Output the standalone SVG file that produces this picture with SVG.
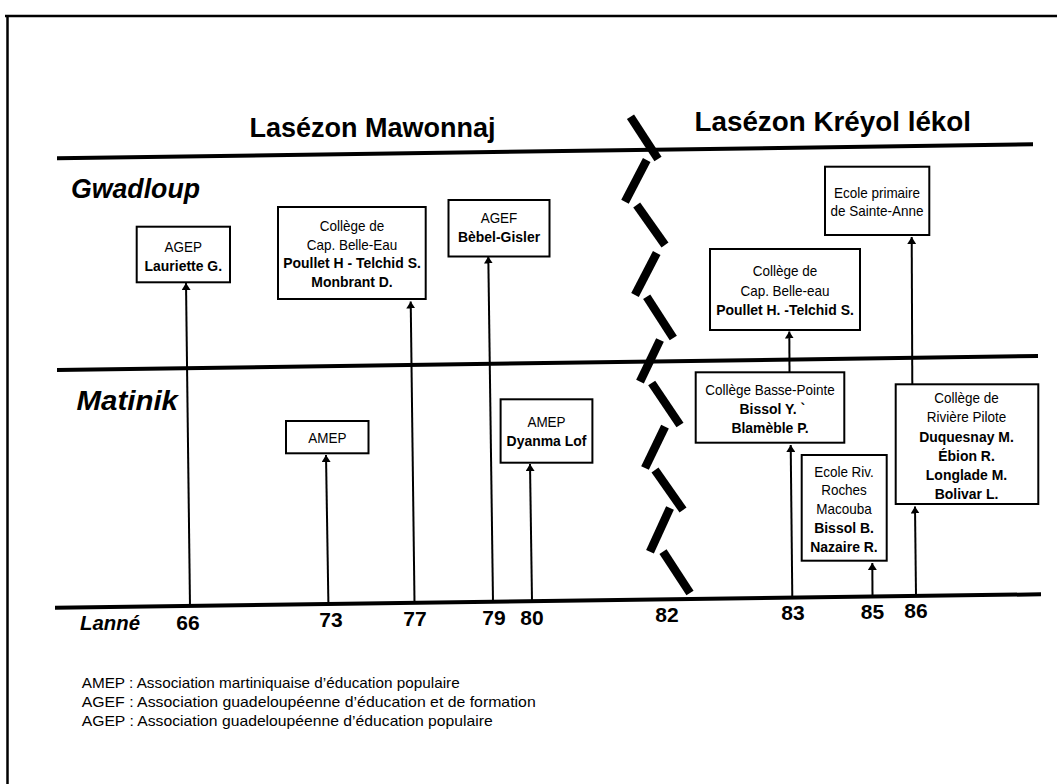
<svg xmlns="http://www.w3.org/2000/svg" width="1057" height="784" viewBox="0 0 1057 784">
<style>
.frame{stroke:#000;stroke-width:2.5;fill:none}
.axis{stroke:#000;stroke-width:4;fill:none}
.zz{stroke:#000;stroke-width:8.5;stroke-linecap:butt;fill:none}
.conn{stroke:#000;stroke-width:2;fill:none}
.box{fill:#fff;stroke:#000;stroke-width:2}
text{font-family:"Liberation Sans",Arial,sans-serif;fill:#000}
.t{font-size:15px;text-anchor:middle}
.b{font-size:15.5px;font-weight:bold;text-anchor:middle}
.title{font-size:27px;font-weight:bold}
.region{font-size:28px;font-weight:bold;font-style:italic}
.year{font-size:21px;font-weight:bold;text-anchor:middle}
.legend{font-size:15px}
</style>
<defs>
<marker id="arr" viewBox="0 0 7 9" refX="7" refY="4.5" markerWidth="7" markerHeight="9" markerUnits="userSpaceOnUse" orient="auto">
<path d="M0,0 L7,4.5 L0,9 z" fill="#000"/>
</marker>
</defs>
<rect width="1057" height="784" fill="#fff"/>
<g id="frame">
<line class="frame" x1="5" y1="16" x2="1057" y2="16"/>
<line class="frame" x1="7.5" y1="15" x2="7.5" y2="784"/>
</g>
<g id="axes">
<line class="axis" x1="57" y1="158.3" x2="1033" y2="144.3"/>
<line class="axis" x1="57" y1="370" x2="1038" y2="356"/>
<line class="axis" x1="55" y1="607.7" x2="1041" y2="594.3"/>
</g>
<g id="break">
<line class="zz" x1="630.5" y1="116.7" x2="658" y2="159"/>
<line class="zz" x1="646.7" y1="160" x2="625" y2="201.7"/>
<line class="zz" x1="636.7" y1="205" x2="665" y2="245"/>
<line class="zz" x1="656.7" y1="253" x2="635" y2="295"/>
<line class="zz" x1="646.7" y1="296.7" x2="673.3" y2="338"/>
<line class="zz" x1="660" y1="340" x2="640" y2="381.7"/>
<line class="zz" x1="651.7" y1="383" x2="680" y2="425"/>
<line class="zz" x1="665" y1="426.7" x2="645" y2="468"/>
<line class="zz" x1="655" y1="470" x2="683" y2="510"/>
<line class="zz" x1="670" y1="508" x2="650" y2="551.7"/>
<line class="zz" x1="663" y1="551.7" x2="690" y2="593"/>
</g>
<g id="titles">
<text class="title" x="249.5" y="137" textLength="246" lengthAdjust="spacingAndGlyphs">Lasézon Mawonnaj</text>
<text class="title" x="694.5" y="131" textLength="276.5" lengthAdjust="spacingAndGlyphs">Lasézon Kréyol lékol</text>
<text class="region" x="71" y="198" textLength="129" lengthAdjust="spacingAndGlyphs">Gwadloup</text>
<text class="region" x="76.5" y="410" textLength="101.5" lengthAdjust="spacingAndGlyphs">Matinik</text>
<text class="region" x="80" y="630" style="font-size:21px" textLength="60" lengthAdjust="spacingAndGlyphs">Lanné</text>
</g>
<g id="connectors">
<line class="conn" marker-end="url(#arr)" x1="190" y1="606" x2="186" y2="283"/>
<line class="conn" marker-end="url(#arr)" x1="328.4" y1="603.5" x2="326" y2="455"/>
<line class="conn" marker-end="url(#arr)" x1="414.5" y1="602.7" x2="410.7" y2="301.5"/>
<line class="conn" marker-end="url(#arr)" x1="493" y1="601.6" x2="488.3" y2="256.5"/>
<line class="conn" marker-end="url(#arr)" x1="532" y1="601" x2="530" y2="464"/>
<line class="conn" marker-end="url(#arr)" x1="792.3" y1="597.5" x2="790.7" y2="445"/>
<line class="conn" marker-end="url(#arr)" x1="789.5" y1="372" x2="789.3" y2="331.5"/>
<line class="conn" marker-end="url(#arr)" x1="872.5" y1="596.3" x2="872.3" y2="563"/>
<line class="conn" marker-end="url(#arr)" x1="916" y1="595.7" x2="915" y2="506.5"/>
<line class="conn" marker-end="url(#arr)" x1="912.3" y1="384" x2="911.7" y2="237"/>
</g>
<g id="n-agep66">
<rect class="box" x="136.7" y="226.7" width="93.3" height="55.6"/>
<g transform="matrix(0.9 0 0 1 183.3 0)">
<text class="t" x="0" y="252.3">AGEP</text>
<text class="b" x="0" y="271">Lauriette G.</text>
</g>
</g>
<g id="n-college77">
<rect class="box" x="278" y="207" width="147.7" height="92"/>
<g transform="matrix(0.9 0 0 1 352 0)">
<text class="t" x="0" y="231.5">Collège de</text>
<text class="t" x="0" y="250">Cap. Belle-Eau</text>
<text class="b" x="0" y="268.5">Poullet H - Telchid S.</text>
<text class="b" x="0" y="287">Monbrant D.</text>
</g>
</g>
<g id="n-agef79">
<rect class="box" x="448.5" y="200" width="101" height="56.5"/>
<g transform="matrix(0.9 0 0 1 499 0)">
<text class="t" x="0" y="223.3">AGEF</text>
<text class="b" x="0" y="242.3">Bèbel-Gisler</text>
</g>
</g>
<g id="n-amep73">
<rect class="box" x="286" y="421" width="82.5" height="32.3"/>
<g transform="matrix(0.9 0 0 1 327.3 0)">
<text class="t" x="0" y="443">AMEP</text>
</g>
</g>
<g id="n-amep80">
<rect class="box" x="500.6" y="399.3" width="91.8" height="63.4"/>
<g transform="matrix(0.9 0 0 1 546.5 0)">
<text class="t" x="0" y="427">AMEP</text>
<text class="b" x="0" y="446.5">Dyanma Lof</text>
</g>
</g>
<g id="n-sainteanne86">
<rect class="box" x="825" y="166.7" width="104.3" height="68.3"/>
<g transform="matrix(0.9 0 0 1 877 0)">
<text class="t" x="0" y="198">Ecole primaire</text>
<text class="t" x="0" y="216.5">de Sainte-Anne</text>
</g>
</g>
<g id="n-college83g">
<rect class="box" x="710" y="249" width="150" height="81"/>
<g transform="matrix(0.9 0 0 1 785 0)">
<text class="t" x="0" y="276">Collège de</text>
<text class="t" x="0" y="296.5">Cap. Belle-eau</text>
<text class="b" x="0" y="315">Poullet H. -Telchid S.</text>
</g>
</g>
<g id="n-bassepointe83">
<rect class="box" x="695.7" y="372.3" width="148.6" height="70.4"/>
<g transform="matrix(0.9 0 0 1 770 0)">
<text class="t" x="0" y="395">Collège Basse-Pointe</text>
<text class="b" x="2.5" y="414">Bissol Y. `</text>
<text class="b" x="0" y="433.3">Blamèble P.</text>
</g>
</g>
<g id="n-ecoleriv85">
<rect class="box" x="801.7" y="455" width="85" height="105.7"/>
<g transform="matrix(0.9 0 0 1 844 0)">
<text class="t" x="0" y="476.7">Ecole Riv.</text>
<text class="t" x="0" y="495">Roches</text>
<text class="t" x="0" y="514">Macouba</text>
<text class="b" x="0" y="533.3">Bissol B.</text>
<text class="b" x="0" y="552.3">Nazaire R.</text>
</g>
</g>
<g id="n-riviere86">
<rect class="box" x="895.7" y="384.3" width="142.6" height="119.7"/>
<g transform="matrix(0.9 0 0 1 966.5 0)">
<text class="t" x="0" y="403.3">Collège de</text>
<text class="t" x="0" y="422.3">Rivière Pilote</text>
<text class="b" x="0" y="441.7">Duquesnay M.</text>
<text class="b" x="0" y="460.7">Ébion R.</text>
<text class="b" x="0" y="480">Longlade M.</text>
<text class="b" x="0" y="499">Bolivar L.</text>
</g>
</g>
<g id="years">
<text class="year" x="188" y="630">66</text>
<text class="year" x="331" y="627.3">73</text>
<text class="year" x="415" y="626">77</text>
<text class="year" x="494" y="625">79</text>
<text class="year" x="532" y="625">80</text>
<text class="year" x="667" y="621.7">82</text>
<text class="year" x="793" y="620">83</text>
<text class="year" x="872.5" y="619.3">85</text>
<text class="year" x="916" y="618.3">86</text>
</g>
<g id="legend">
<text class="legend" x="81.7" y="687.5" textLength="378" lengthAdjust="spacingAndGlyphs">AMEP : Association martiniquaise d’éducation populaire</text>
<text class="legend" x="81.7" y="706.5" textLength="454" lengthAdjust="spacingAndGlyphs">AGEF : Association guadeloupéenne d’éducation et de formation</text>
<text class="legend" x="81.7" y="725.5" textLength="411" lengthAdjust="spacingAndGlyphs">AGEP : Association guadeloupéenne d’éducation populaire</text>
</g>
</svg>
